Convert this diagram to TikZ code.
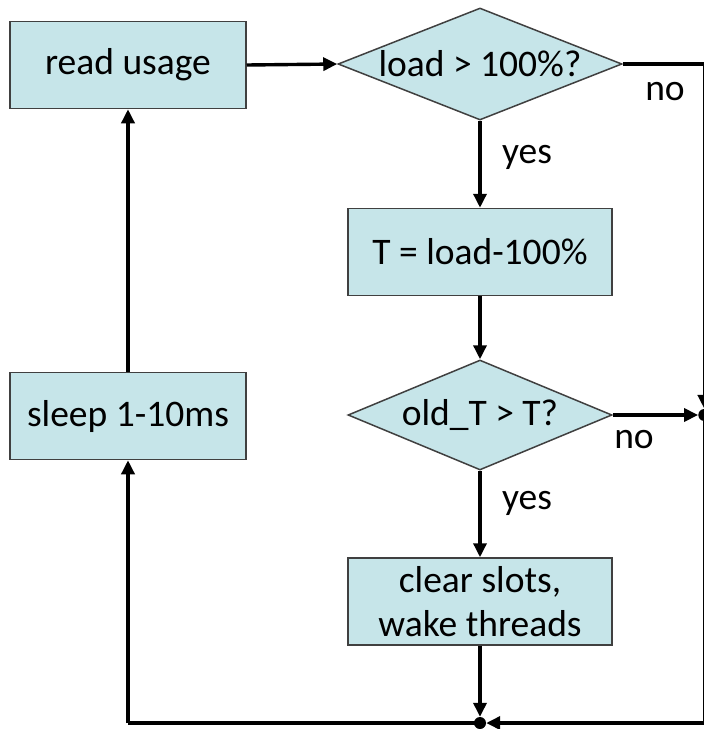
\documentclass[tikz,border=0pt]{standalone}
\usepackage{fontspec}
\setmainfont{Carlito}
\usetikzlibrary{shapes.geometric,arrows.meta}
\definecolor{boxfill}{HTML}{C6E5E9}
\definecolor{boxline}{HTML}{404040}
\begin{document}
\begin{tikzpicture}[x=1pt,y=-1pt,
  txt/.style={font=\fontsize{37.5}{44}\selectfont, align=center, inner sep=0pt},
  box/.style={txt, draw=boxline, line width=1.5pt, fill=boxfill, minimum height=87pt},
  wbox/.style={box, minimum width=236pt},
  nbox/.style={box, minimum width=264pt},
  dia/.style={diamond, draw=boxline, line width=1.5pt, fill=boxfill, inner sep=0pt},
  conn/.style={line width=3.4pt, black},
  arr/.style={conn, -{Triangle[length=14pt,width=13pt]}},
  lbl/.style={txt},
  dot/.style={circle, fill=black, inner sep=0pt, minimum size=12pt}
]
\useasboundingbox (0,0) rectangle (704,729);
\fill[white] (0,0) rectangle (704,729);

\node[wbox] (read) at (128,65) {read usage};
\node[wbox] (sleep) at (128,416) {sleep 1-10ms};
\node[dia, minimum width=284pt, minimum height=112pt] (d1) at (480,64) {};
\node[txt] (d1t) at (d1) {load > 100\%?};
\node[nbox] (T) at (480,252) {T = load-100\%};
\node[dia, minimum width=264pt, minimum height=110pt] (d2) at (480,415) {};
\node[txt] (d2t) at (d2) {old\_T > T?};
\node[nbox, minimum height=87pt] (clr) at (480,601.5) {clear slots,\\wake threads};

\node[dot] (j1) at (704.3,415) {};
\node[dot] (j2) at (480,723) {};
\coordinate (c1) at (704.3,64);
\coordinate (c2) at (704.3,723);
\coordinate (c3) at (128,723);

\draw[arr] (read.east) -- (d1.west);
\draw[conn] (d1.east) -- (c1);
\draw[arr] (c1) -- (j1.north);
\draw[arr] (d1.south) -- (T.north);
\draw[arr] (T.south) -- (d2.north);
\draw[arr] (d2.east) -- (j1.west);
\draw[arr] (d2.south) -- (clr.north);
\draw[arr] (clr.south) -- (j2.north);
\draw[conn] (j1.center) -- (c2);
\draw[arr] (c2) -- (j2.east);
\draw[conn] (j2.center) -- (c3);
\draw[arr] (c3) -- (sleep.south);
\draw[arr] (sleep.north) -- (read.south);

\node[lbl] (no1) at (665,92) {no};
\node[lbl] (yes1) at (527,157) {yes};
\node[lbl] (no2) at (634,440) {no};
\node[lbl] (yes2) at (527,503) {yes};
\end{tikzpicture}
\end{document}
